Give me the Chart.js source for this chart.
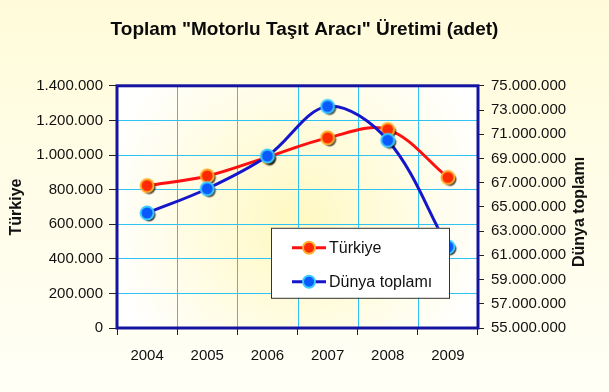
<!DOCTYPE html>
<html>
<head>
<meta charset="utf-8">
<script src="https://cdn.jsdelivr.net/npm/chart.js@4/dist/chart.umd.min.js"></script>
<style>
  html, body { margin: 0; padding: 0; background: #fff; }
  #wrap { width: 609px; height: 392px; }
</style>
</head>
<body>
<div id="wrap"><canvas id="grafico" width="609" height="392"></canvas></div>
<script>
// datos
const years = ['2004', '2005', '2006', '2007', '2008', '2009'];
const turkiye = [823000, 879000, 988000, 1099000, 1147000, 870000];
const dunya = [64500000, 66500000, 69200000, 73300000, 70500000, 61700000];
const leftMin = 0, leftMax = 1400000, leftStep = 200000;
const rightMin = 55000000, rightMax = 75000000, rightStep = 2000000;

const FONT = "'Liberation Sans', Arial, sans-serif";
const GRID = '#2EC3F2';

// numero con puntos de miles
function fmt(v) {
    return String(v).replace(/\B(?=(\d{3})+(?!\d))/g, '.');
}

// marcador con sombra como imagen
function makeMarker(fill, edge) {
    const c = document.createElement('canvas');
    c.width = 24; c.height = 24;
    const g = c.getContext('2d');
    g.shadowColor = 'rgba(0,0,0,0.75)';
    g.shadowOffsetX = 2;
    g.shadowOffsetY = 2;
    g.shadowBlur = 1;
    g.beginPath();
    g.arc(12, 12, 6.5, 0, Math.PI * 2);
    g.fillStyle = fill;
    g.fill();
    g.shadowColor = 'transparent';
    g.lineWidth = 2;
    g.strokeStyle = edge;
    g.stroke();
    return c;
}

const redMarker = makeMarker('#FF2A00', '#FFB030');
const blueMarker = makeMarker('#0A5AFF', '#3CCBFF');

const fondo = {
    id: 'fondo',
    beforeDraw(chart) {
        const ctx = chart.ctx;
        const a = chart.chartArea;
        ctx.save();
        let lg = ctx.createLinearGradient(0, 0, 0, chart.height);
        lg.addColorStop(0, '#FFFBDA');
        lg.addColorStop(1, '#FFFFF6');
        ctx.fillStyle = lg;
        ctx.fillRect(0, 0, chart.width, chart.height);
        const cx = (a.left + a.right) / 2, cy = (a.top + a.bottom) / 2;
        let rg = ctx.createRadialGradient(cx, cy + 20, 10, cx, cy, 200);
        rg.addColorStop(0, '#FFF9C4');
        rg.addColorStop(1, '#FFFFFF');
        ctx.fillStyle = rg;
        ctx.fillRect(a.left, a.top, a.right - a.left, a.bottom - a.top);
        ctx.restore();
    },
    beforeDatasetsDraw(chart) {
        const ctx = chart.ctx;
        const a = chart.chartArea;
        ctx.save();
        // lineas verticales de la cuadricula, alineadas al pixel
        const xs = chart.scales.x;
        ctx.strokeStyle = GRID;
        ctx.lineWidth = 1;
        for (let i = 1; i < years.length; i++) {
            const px = Math.round((xs.getPixelForTick(i - 1) + xs.getPixelForTick(i)) / 2) + 0.5;
            ctx.beginPath();
            ctx.moveTo(px, a.top);
            ctx.lineTo(px, a.bottom);
            ctx.stroke();
        }
        ctx.strokeStyle = '#1414A0';
        ctx.lineWidth = 3;
        ctx.strokeRect(a.left, a.top, a.right - a.left, a.bottom - a.top);
        // titulos de ejes (ambos de abajo hacia arriba)
        ctx.fillStyle = '#111';
        ctx.font = 'bold 16px ' + FONT;
        ctx.textAlign = 'center';
        ctx.textBaseline = 'middle';
        ctx.translate(17, 207);
        ctx.rotate(-Math.PI / 2);
        ctx.fillText('Türkiye', 0, 0);
        ctx.restore();
        ctx.save();
        ctx.fillStyle = '#111';
        ctx.font = 'bold 16px ' + FONT;
        ctx.textAlign = 'center';
        ctx.textBaseline = 'middle';
        ctx.translate(580, 212);
        ctx.rotate(-Math.PI / 2);
        ctx.fillText('Dünya toplamı', 0, 0);
        ctx.restore();
    }
};

// leyenda dentro del area del grafico
const leyenda = {
    id: 'leyenda',
    afterDatasetsDraw(chart) {
        const ctx = chart.ctx;
        const a = chart.chartArea;
        const x = a.left + 154, y = a.top + 142, w = 178, h = 70;
        ctx.save();
        ctx.fillStyle = '#FFFFFF';
        ctx.fillRect(x, y, w, h);
        ctx.strokeStyle = '#333';
        ctx.lineWidth = 1;
        ctx.strokeRect(x + 0.5, y + 0.5, w, h);
        const items = [
            { text: 'Türkiye', line: '#FF1010', fill: '#FF2A00', edge: '#FFB030', dy: 20 },
            { text: 'Dünya toplamı', line: '#1515CC', fill: '#0A5AFF', edge: '#3CCBFF', dy: 54 }
        ];
        items.forEach(it => {
            const yy = y + it.dy;
            ctx.strokeStyle = it.line;
            ctx.lineWidth = 3;
            ctx.beginPath();
            ctx.moveTo(x + 21, yy);
            ctx.lineTo(x + 55, yy);
            ctx.stroke();
            ctx.beginPath();
            ctx.arc(x + 38, yy, 6, 0, Math.PI * 2);
            ctx.fillStyle = it.fill;
            ctx.fill();
            ctx.lineWidth = 2;
            ctx.strokeStyle = it.edge;
            ctx.stroke();
            ctx.fillStyle = '#111';
            ctx.font = '16px ' + FONT;
            ctx.textAlign = 'left';
            ctx.textBaseline = 'middle';
            ctx.fillText(it.text, x + 58, yy + 1);
        });
        ctx.restore();
    }
};

const ctx = document.getElementById('grafico').getContext('2d');
const chart = new Chart(ctx, {
    type: 'line',
    data: {
        labels: years,
        datasets: [{
            label: 'Türkiye',
            data: turkiye,
            yAxisID: 'y',
            borderColor: '#FF1010',
            borderWidth: 3,
            tension: 0.35,
            pointStyle: redMarker,
            order: 1
        }, {
            label: 'Dünya toplamı',
            data: dunya,
            yAxisID: 'y1',
            borderColor: '#1515CC',
            borderWidth: 3,
            tension: 0.35,
            pointStyle: blueMarker,
            order: 0
        }]
    },
    options: {
        responsive: false,
        animation: false,
        layout: { padding: 0 },
        plugins: {
            legend: { display: false },
            tooltip: { enabled: false },
            title: {
                display: true,
                text: 'Toplam "Motorlu Taşıt Aracı" Üretimi (adet)',
                color: '#0A0A0A',
                font: { family: FONT, size: 19, weight: 'bold' },
                padding: { top: 18, bottom: 45 }
            }
        },
        scales: {
            x: {
                offset: true,
                // solo las marcas bajo el eje; las lineas las dibuja el plugin
                grid: { offset: true, drawOnChartArea: false, tickLength: 7, tickColor: '#222' },
                border: { display: false },
                ticks: { color: '#111', font: { family: FONT, size: 15 }, padding: 12, maxRotation: 0 },
                afterFit(s) { s.height = 64; }
            },
            y: {
                position: 'left',
                min: leftMin,
                max: leftMax,
                grid: { color: GRID, lineWidth: 1, tickLength: 8, tickColor: '#222' },
                border: { display: false },
                ticks: {
                    stepSize: leftStep,
                    color: '#111',
                    font: { family: FONT, size: 15 },
                    padding: 6,
                    callback: v => fmt(v)
                },
                afterFit(s) { s.width = 117; }
            },
            y1: {
                position: 'right',
                min: rightMin,
                max: rightMax,
                grid: { drawOnChartArea: false, tickLength: 6, tickColor: '#222' },
                border: { display: false },
                ticks: {
                    stepSize: rightStep,
                    color: '#111',
                    font: { family: FONT, size: 15 },
                    padding: 7,
                    callback: v => fmt(v)
                },
                afterFit(s) { s.width = 131; }
            }
        }
    },
    plugins: [fondo, leyenda]
});
</script>
</body>
</html>
